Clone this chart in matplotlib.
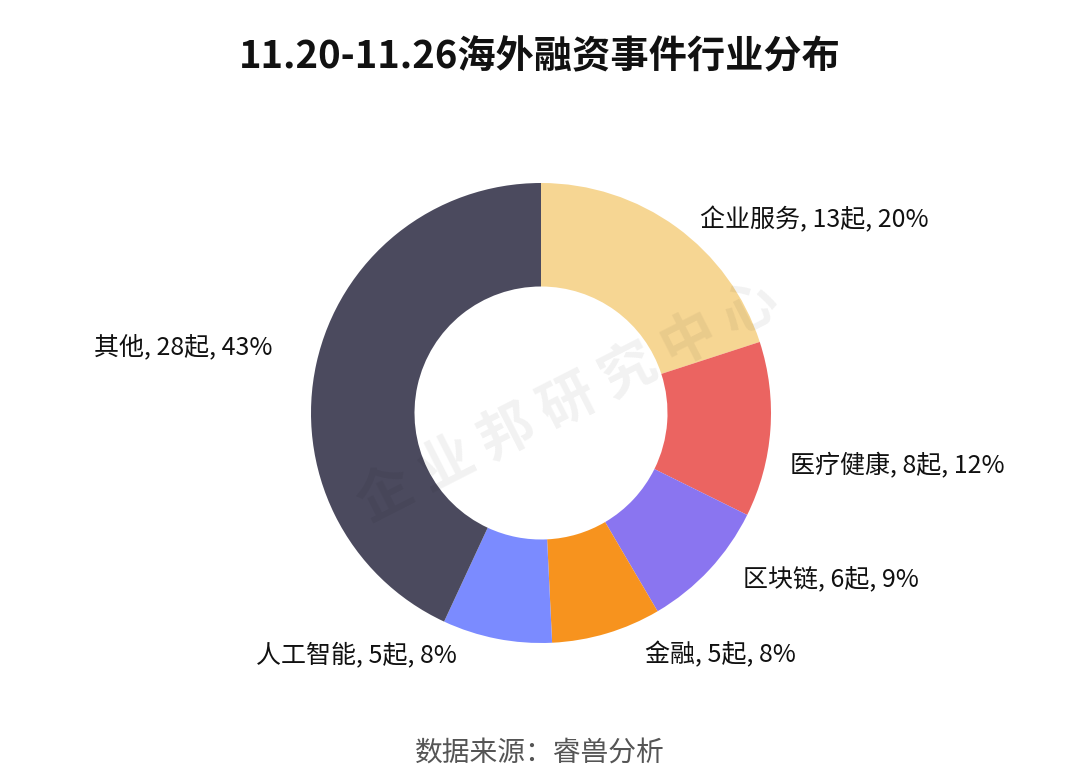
import numpy as np
import matplotlib.pyplot as plt

plt.rcParams['font.family'] = ['Noto Sans CJK SC', 'DejaVu Sans']

# 数据
categories = ['企业服务', '医疗健康', '区块链', '金融', '人工智能', '其他']
counts = [13, 8, 6, 5, 5, 28]
colors = ['#F6D693', '#EB6461', '#8A75F0', '#F7931E', '#7B8BFF', '#4B4A5E']

# 标签位置微调 (角度偏移, 半径), 模仿原图的标签布局
label_shift = [-3.5, -8.0, 3.3, 6.7, -8.0, -1.3]
label_radius = [1.087, 1.108, 1.139, 1.145, 1.114, 1.204]

fig = plt.figure(figsize=(10.8, 7.81), dpi=100)
fig.patch.set_facecolor('white')

# 圆心 (541, 413) 像素, 外半径 230 像素
W, H = 1080, 781
cx, cy, R = 541, 413, 230
ax = fig.add_axes([(cx - R) / W, (H - cy - R) / H, 2 * R / W, 2 * R / H])

wedges, _ = ax.pie(counts, colors=colors, startangle=90, counterclock=False,
                   radius=1.0, wedgeprops=dict(width=0.45, edgecolor='none'))
ax.set_xlim(-1, 1)
ax.set_ylim(-1, 1)
ax.set_aspect('equal')
ax.axis('off')

total = sum(counts)
for i, w in enumerate(wedges):
    mid = (w.theta1 + w.theta2) / 2 + label_shift[i]
    r = label_radius[i]
    x, y = r * np.cos(np.radians(mid)), r * np.sin(np.radians(mid))
    pct = round(counts[i] / total * 100)
    ha = 'left' if x > 0 else 'right'
    ax.text(x, y, f'{categories[i]}, {counts[i]}起, {pct}%', ha=ha, va='center',
            fontsize=18, color='#111111', clip_on=False)

# 水印
fig.text(0.526, 0.484, '企 业 邦 研 究 中 心', fontsize=40, color='#000000', alpha=0.055,
         rotation=27, ha='center', va='center', fontweight='bold')

fig.text(0.5, 0.927, '11.20-11.26海外融资事件行业分布', ha='center', va='center',
         fontsize=27.5, fontweight='bold', color='#111111')
fig.text(0.5, 0.036, '数据来源：睿兽分析', ha='center', va='center',
         fontsize=20, color='#555555')

fig.savefig('out.png', dpi=100)
